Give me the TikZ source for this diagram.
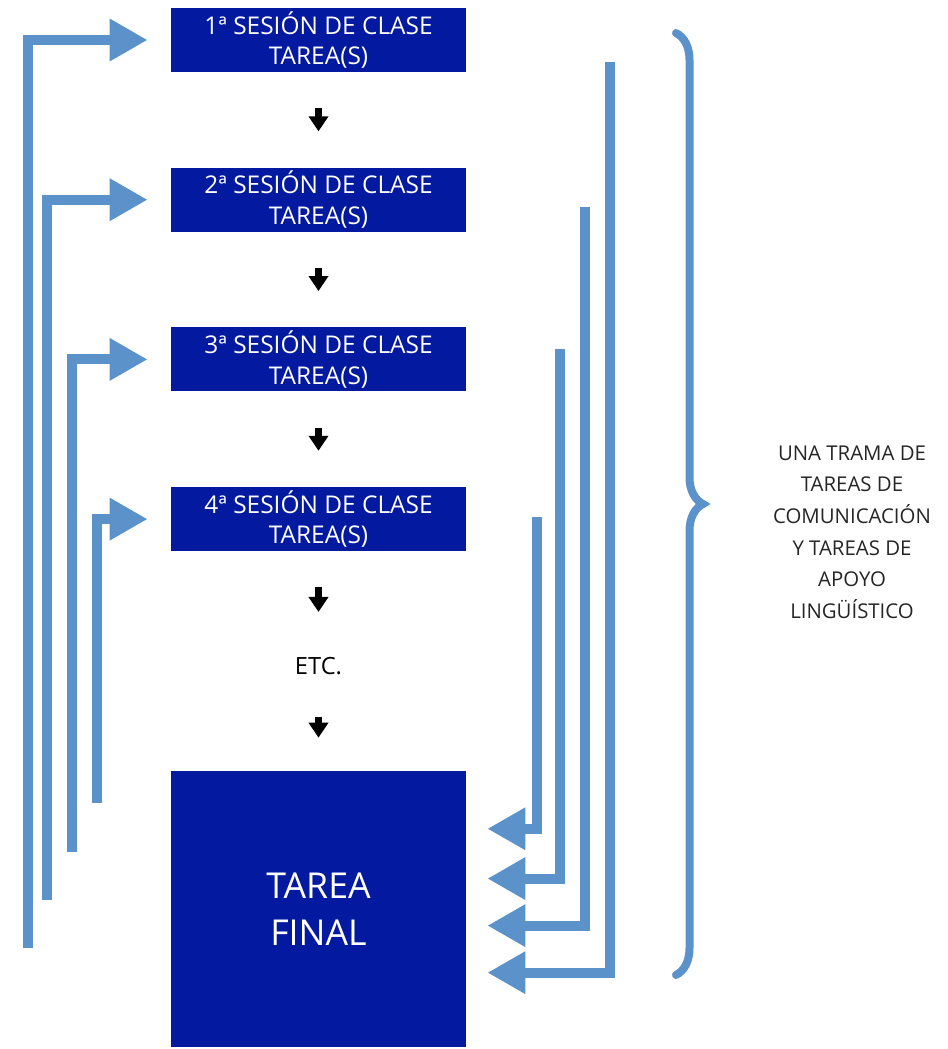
\documentclass[tikz,border=0pt]{standalone}
\usepackage{fontspec}
\setmainfont{Open Sans}
\usetikzlibrary{arrows.meta,positioning,calc,decorations.pathreplacing}
\definecolor{db}{RGB}{3,25,160}
\definecolor{lb}{RGB}{91,146,201}
\tikzset{
    session/.style = {rectangle,
                    fill=db,
                    text=white,
                    inner sep=0pt,
                    minimum width=5.9cm,
                    minimum height=1.28cm,
                    align=center,
                    font=\fontsize{13.9}{17.5}\selectfont},
    finalbox/.style = {session,
                    minimum height=5.52cm,
                    font=\fontsize{20.3}{26.5}\selectfont},
    etcnode/.style = {rectangle,
                    inner sep=0pt,
                    minimum height=0.7cm,
                    text=black,
                    font=\fontsize{13.5}{17.5}\selectfont},
    note/.style =   {align=center,
                    text=black!85,
                    font=\fontsize{11.6}{18}\selectfont},
    -,
    stepdown/.style = {draw=black,
                    line width=0.14cm,
                    -{Triangle[length=0.3cm,width=0.38cm]},
                    shorten <=0.72cm,
                    shorten >=0.72cm},
    flow/.style =   {draw=lb,
                    line width=0.2cm,
                    -{Triangle[length=0.76cm,width=0.8cm]},
                    shorten >=0.46cm},
    backflow/.style = {flow,
                    shorten >=0.42cm},
    bracket/.style = {draw=lb,
                    line width=0.16cm,
                    line cap=round,
                    decorate,
                    decoration={brace,amplitude=0.54cm,aspect=0.5}}}

\begin{document}
\begin{tikzpicture}
                \useasboundingbox (0,0) rectangle (18.96,-20.98);
                \node[session]  (s1) at (6.37,-0.8)       {1ª SESIÓN DE CLASE\\TAREA(S)};
                \node[session]  (s2) [below=1.9cm of s1]  {2ª SESIÓN DE CLASE\\TAREA(S)};
                \node[session]  (s3) [below=1.9cm of s2]  {3ª SESIÓN DE CLASE\\TAREA(S)};
                \node[session]  (s4) [below=1.9cm of s3]  {4ª SESIÓN DE CLASE\\TAREA(S)};
                \node[etcnode]  (etc) [below=1.93cm of s4] {ETC.};
                \node[finalbox] (tf) [below=1.74cm of etc] {TAREA\\FINAL};
                \path [stepdown]    (s1) edge [] (s2)
                                    (s2) edge [] (s3)
                                    (s3) edge [] (s4)
                                    (s4) edge [] (etc)
                                    (etc) edge [shorten <=0.66cm,shorten >=0.66cm] (tf);
                % feeding lines on the left
                \coordinate (l1) at (0.56,-18.96);
                \coordinate (l2) at (0.94,-18.0);
                \coordinate (l3) at (1.44,-17.04);
                \coordinate (l4) at (1.94,-16.06);
                \draw [flow] (l1) |- (s1.west);
                \draw [flow] (l2) |- (s2.west);
                \draw [flow] (l3) |- (s3.west);
                \draw [flow] (l4) |- (s4.west);
                % lines back into the final task
                \coordinate (r1) at (12.2,-1.24);
                \coordinate (r2) at (11.7,-4.14);
                \coordinate (r3) at (11.2,-6.98);
                \coordinate (r4) at (10.74,-10.34);
                \draw [backflow] (r1) |- ($(tf.south east)!0.27!(tf.north east)$);
                \draw [backflow] (r2) |- ($(tf.south east)!0.44!(tf.north east)$);
                \draw [backflow] (r3) |- ($(tf.south east)!0.61!(tf.north east)$);
                \draw [backflow] (r4) |- ($(tf.south east)!0.79!(tf.north east)$);
                \coordinate (bt) at (13.52,-0.66);
                \coordinate (bb) at (13.52,-19.5);
                \draw [bracket] (bt) -- (bb);
                \node[note] (trama) at (17.04,-10.64) {UNA TRAMA DE\\TAREAS DE\\COMUNICACIÓN\\Y TAREAS DE\\APOYO\\LINGÜÍSTICO};
        \end{tikzpicture}
\end{document}
